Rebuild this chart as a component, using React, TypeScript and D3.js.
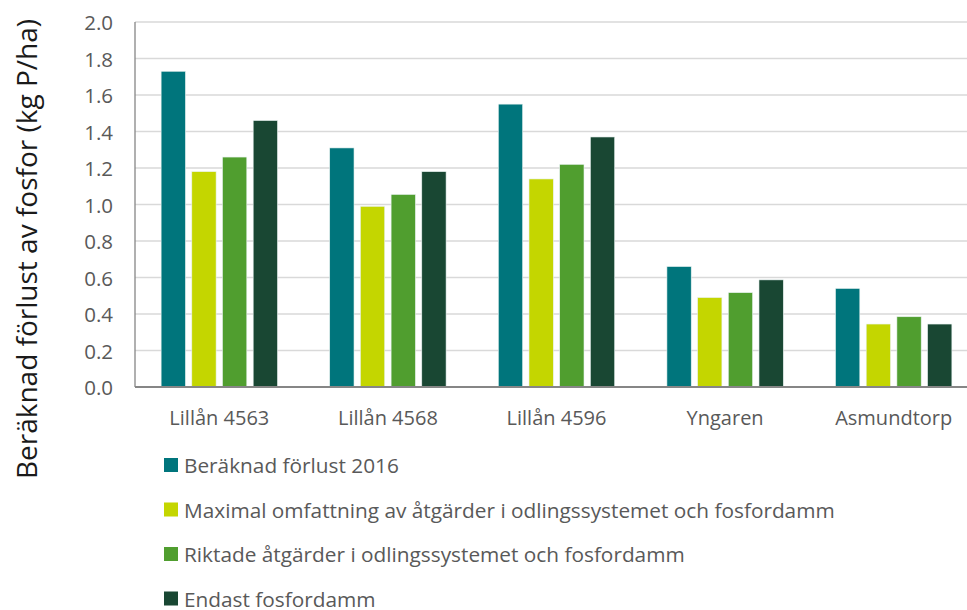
import * as d3 from "d3";
import { useEffect, useRef } from "react";

const CATEGORIES = ["Lillån 4563", "Lillån 4568", "Lillån 4596", "Yngaren", "Asmundtorp"];
const SERIES = [
  "Beräknad förlust 2016",
  "Maximal omfattning av åtgärder i odlingssystemet och fosfordamm",
  "Riktade åtgärder i odlingssystemet och fosfordamm",
  "Endast fosfordamm",
];
const COLORS = ["#00757c", "#c4d600", "#509e2f", "#194733"];

const BERAKNAD = [1.73, 1.31, 1.55, 0.66, 0.54];
const MAXIMAL = [1.18, 0.99, 1.14, 0.49, 0.345];
const RIKTADE = [1.26, 1.055, 1.22, 0.517, 0.385];
const ENDAST = [1.46, 1.18, 1.37, 0.587, 0.345];
const VALUES = [BERAKNAD, MAXIMAL, RIKTADE, ENDAST];

const Y_TICKS = [0, 0.2, 0.4, 0.6, 0.8, 1.0, 1.2, 1.4, 1.6, 1.8, 2.0];

const W = 967;
const H = 610;
const FONT = "'Open Sans', sans-serif";

export default function App() {
  const ref = useRef<SVGSVGElement>(null);

  useEffect(() => {
    const svg = d3.select(ref.current);
    svg.selectAll("*").remove();

    const left = 135;
    const right = 978;
    const top = 22;
    const bottom = 387;

    const x0 = d3.scaleBand<string>().domain(CATEGORIES).range([left, right]);
    const x1 = d3
      .scaleBand<string>()
      .domain(SERIES)
      .range([0, x0.bandwidth()])
      .paddingInner(0.208)
      .paddingOuter(0.851);
    const y = d3.scaleLinear().domain([0, 2]).range([bottom, top]);

    // gridlines
    svg
      .append("g")
      .selectAll("line")
      .data(Y_TICKS.filter((t) => t > 0))
      .join("line")
      .attr("x1", left)
      .attr("x2", W)
      .attr("y1", (d) => y(d))
      .attr("y2", (d) => y(d))
      .attr("stroke", "#d9d9d9")
      .attr("stroke-width", 1.5);

    // bars
    CATEGORIES.forEach((cat, ci) => {
      const g = svg.append("g").attr("transform", `translate(${x0(cat)},0)`);
      SERIES.forEach((s, si) => {
        const v = VALUES[si][ci];
        g.append("rect")
          .attr("x", x1(s)!)
          .attr("width", x1.bandwidth())
          .attr("y", y(v))
          .attr("height", y(0) - y(v))
          .attr("fill", COLORS[si])
          .attr("stroke", "#e8f2f0")
          .attr("stroke-width", 0.6);
      });
    });

    // axes lines
    svg
      .append("line")
      .attr("x1", left)
      .attr("x2", left)
      .attr("y1", top)
      .attr("y2", bottom)
      .attr("stroke", "#868686")
      .attr("stroke-width", 1.3);
    svg
      .append("line")
      .attr("x1", left)
      .attr("x2", W)
      .attr("y1", bottom)
      .attr("y2", bottom)
      .attr("stroke", "#868686")
      .attr("stroke-width", 2);

    // y tick labels
    svg
      .append("g")
      .selectAll("text")
      .data(Y_TICKS)
      .join("text")
      .attr("x", 113)
      .attr("y", (d) => y(d))
      .attr("text-anchor", "end")
      .attr("dominant-baseline", "central")
      .attr("fill", "#595959")
      .attr("font-family", FONT)
      .attr("font-size", 20.5)
      .text((d) => d3.format(".1f")(d));

    // category labels
    svg
      .append("g")
      .selectAll("text")
      .data(CATEGORIES)
      .join("text")
      .attr("x", (d) => x0(d)! + x0.bandwidth() / 2)
      .attr("y", 425)
      .attr("text-anchor", "middle")
      .attr("fill", "#595959")
      .attr("font-family", FONT)
      .attr("font-size", 20)
      .text((d) => d);

    // y title
    svg
      .append("text")
      .attr("transform", `translate(37,249) rotate(-90)`)
      .attr("text-anchor", "middle")
      .attr("fill", "#1a1a1a")
      .attr("font-family", FONT)
      .attr("font-size", 28)
      .text("Beräknad förlust av fosfor (kg P/ha)");

    // legend
    const lg = svg
      .append("g")
      .selectAll("g")
      .data(SERIES)
      .join("g")
      .attr("transform", (_, i) => `translate(164,${465 + i * 44.5})`);
    lg.append("rect")
      .attr("x", 0)
      .attr("y", -7)
      .attr("width", 14)
      .attr("height", 14)
      .attr("fill", (_, i) => COLORS[i]);
    lg.append("text")
      .attr("x", 20)
      .attr("y", 0)
      .attr("dominant-baseline", "central")
      .attr("fill", "#595959")
      .attr("font-family", FONT)
      .attr("font-size", 20.8)
      .text((d) => d);
  }, []);

  return (
    <div style={{ position: "fixed", left: 0, top: 0 }}>
      <svg ref={ref} width={W} height={H} style={{ display: "block", background: "#fff" }} />
    </div>
  );
}
